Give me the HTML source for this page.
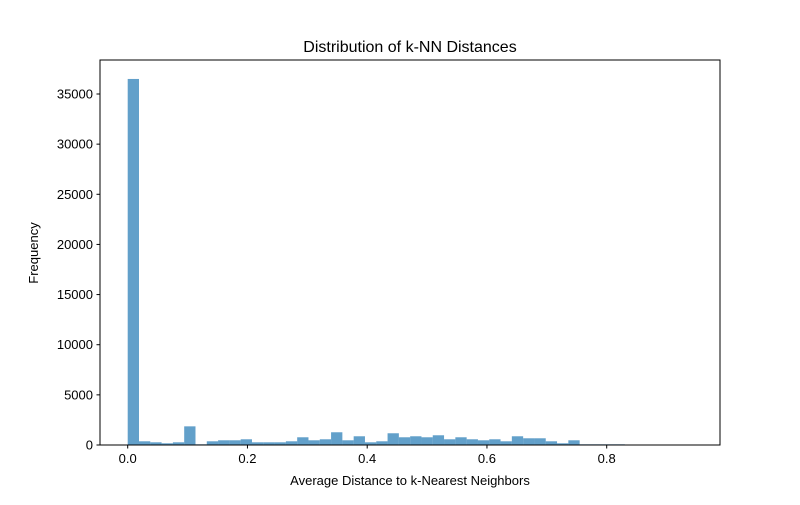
<!DOCTYPE html>
<html><head><meta charset="utf-8"><style>
body{margin:0;background:#fff;}
svg text{font-family:"Liberation Sans","DejaVu Sans",sans-serif;fill:#000;}
</style></head><body>
<svg id="chart" width="800" height="500">
<rect width="800" height="500" fill="#fff"/>
<text x="410" y="52" font-size="16" text-anchor="middle">Distribution of k-NN Distances</text>
<g id="bars"></g>
<g id="axes"></g>
<rect x="100" y="60" width="620" height="385" fill="none" stroke="#000" stroke-width="1"/>
<text x="410" y="485" font-size="13" text-anchor="middle">Average Distance to k-Nearest Neighbors</text>
<text x="38" y="253" font-size="13" text-anchor="middle" transform="rotate(-90 38 253)">Frequency</text>
</svg>
<script>
const counts = [36500,370,270,170,270,1860,70,370,470,470,570,270,270,270,370,770,470,570,1270,470,870,270,370,1170,770,870,770,970,570,770,570,470,570,370,870,670,670,370,170,470,70,70,70,70,0,0,0,0,0,0];
const binStart = 0;
const binWidth = 0.01887;
const xTicks = [0.0,0.2,0.4,0.6,0.8];
const xTickLabels = ["0.0","0.2","0.4","0.6","0.8"];
const yTicks = [0,5000,10000,15000,20000,25000,30000,35000];
const yTickLabels = ["0","5000","10000","15000","20000","25000","30000","35000"];

const ns = "http://www.w3.org/2000/svg";
function xs(v){return 127.7 + v*598.75;}
function ys(v){return 445 - v*(351/35000);}
const gb = document.getElementById('bars');
counts.forEach((c,i)=>{
  if(c<=0) return;
  const r = document.createElementNS(ns,'rect');
  const x0 = xs(binStart+i*binWidth), x1 = xs(binStart+(i+1)*binWidth);
  r.setAttribute('x',x0); r.setAttribute('width',x1-x0);
  r.setAttribute('y',ys(c)); r.setAttribute('height',445-ys(c));
  r.setAttribute('fill','#1f77b4'); r.setAttribute('fill-opacity','0.7');
  
  
  gb.appendChild(r);
});
const ga = document.getElementById('axes');
xTicks.forEach((t,i)=>{
  const x = xs(t);
  const l = document.createElementNS(ns,'line');
  l.setAttribute('x1',x);l.setAttribute('x2',x);l.setAttribute('y1',445);l.setAttribute('y2',448.5);l.setAttribute('stroke','#000');
  
  
  ga.appendChild(l);
  const tx = document.createElementNS(ns,'text');
  tx.setAttribute('x',x);tx.setAttribute('y',463);tx.setAttribute('font-size','13');tx.setAttribute('text-anchor','middle');
  tx.textContent = xTickLabels[i];
  
  
  ga.appendChild(tx);
});
yTicks.forEach((t,i)=>{
  const y = ys(t);
  const l = document.createElementNS(ns,'line');
  l.setAttribute('x1',96.5);l.setAttribute('x2',100);l.setAttribute('y1',y);l.setAttribute('y2',y);l.setAttribute('stroke','#000');
  
  
  ga.appendChild(l);
  const tx = document.createElementNS(ns,'text');
  tx.setAttribute('x',93);tx.setAttribute('y',y+4.5);tx.setAttribute('font-size','13');tx.setAttribute('text-anchor','end');
  tx.textContent = yTickLabels[i];
  
  
  ga.appendChild(tx);
});
</script>
</body></html>
